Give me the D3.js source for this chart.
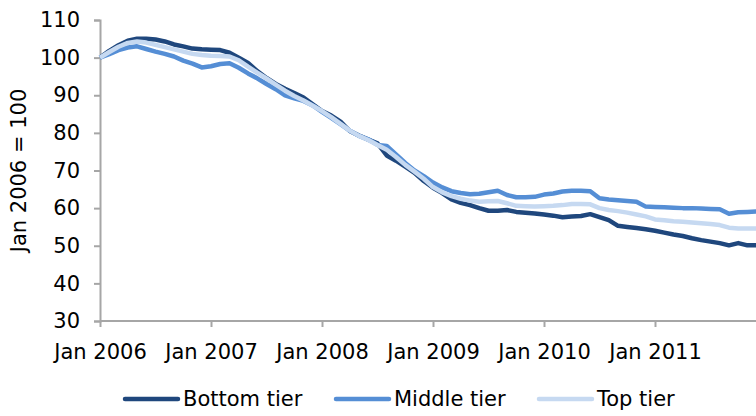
<!DOCTYPE html>
<html>
<head>
<meta charset="utf-8">
<script src="https://cdn.jsdelivr.net/npm/d3@7"></script>
<style>
  body { margin: 0; background: #fff; }
  svg { display: block; font-family: Verdana, "DejaVu Sans", sans-serif; }
</style>
</head>
<body>
<svg id="chart" width="756" height="416"></svg>
<script>
// monthly index, Jan 2006 = 100
var yearLabels = ["Jan 2006", "Jan 2007", "Jan 2008", "Jan 2009", "Jan 2010", "Jan 2011"];
var yTicks = [30, 40, 50, 60, 70, 80, 90, 100, 110];

var bottomTier = [
  100, 101.8, 103.3, 104.5, 105.0, 105.0, 104.8, 104.3, 103.5, 103.0, 102.4, 102.2,
  102.1, 102.0, 101.3, 100.0, 98.6, 96.4, 94.6, 93.0, 91.7, 90.6, 89.4, 87.6,
  85.8, 84.6, 83.0, 80.5, 79.3, 78.2, 77.2, 74.0, 72.6, 71.0, 69.4, 67.2,
  65.4, 64.0, 62.3, 61.4, 60.8, 60.0, 59.3, 59.3, 59.5, 59.0, 58.8, 58.6,
  58.3, 58.0, 57.6, 57.8, 57.9, 58.4, 57.6, 56.8, 55.3, 55.0, 54.7, 54.4,
  54.0, 53.5, 53.0, 52.6, 52.0, 51.5, 51.1, 50.7, 50.1, 50.7, 50.1, 50.1
];
var middleTier = [
  100, 100.9, 102.0, 102.7, 103.0, 102.3, 101.6, 101.0, 100.3, 99.2, 98.4, 97.4,
  97.7, 98.3, 98.5, 97.3, 95.8, 94.5, 93.0, 91.6, 90.0, 89.2, 88.5, 87.3,
  85.6, 84.0, 82.3, 80.6, 79.2, 78.3, 76.8, 76.5, 74.3, 72.0, 70.0, 68.5,
  66.8, 65.5, 64.5, 64.0, 63.7, 63.8, 64.2, 64.6, 63.5, 62.9, 62.9, 63.0,
  63.6, 63.9, 64.4, 64.6, 64.6, 64.5, 62.6, 62.3, 62.1, 61.9, 61.7, 60.4,
  60.3, 60.2, 60.1, 60.0, 60.0, 59.9, 59.8, 59.7, 58.5, 58.9, 59.0, 59.1
];
var topTier = [
  100, 101.5, 102.9, 103.9, 104.3, 104.0, 103.4, 102.8, 102.2, 101.6, 101.0, 100.7,
  100.5, 100.4, 100.3, 99.3, 97.6, 96.0, 94.5, 92.8, 91.2, 89.8, 88.6, 87.2,
  85.8, 84.2, 82.4, 80.6, 79.2, 78.1, 76.8, 75.5, 73.6, 71.5, 69.7, 67.8,
  65.6, 64.2, 63.2, 62.5, 62.0, 61.7, 61.8, 61.9, 61.3, 60.6, 60.5, 60.4,
  60.5, 60.6, 60.8, 61.1, 61.1, 61.0, 60.0, 59.5, 59.2, 58.8, 58.3, 57.8,
  57.0, 56.8, 56.5, 56.4, 56.2, 56.0, 55.8, 55.5, 54.8, 54.6, 54.6, 54.6
];

var seriesNames = ["Bottom tier", "Middle tier", "Top tier"];
var colors = ["#1f477d", "#558ed5", "#c6d9f1"];
var allSeries = [bottomTier, middleTier, topTier];

var margin = {top: 20, left: 100},
    plotW = 656.75,
    plotH = 301;

var svg = d3.select("#chart");

var x = d3.scaleLinear()
    .domain([0, 71])
    .range([margin.left, margin.left + plotW]);

var y = d3.scaleLinear()
    .domain([30, 110])
    .range([margin.top + plotH, margin.top]);

var axisColor = "#a6a6a6";
var fontSize = "21px";

// y axis
var yAxis = svg.append("g")
    .attr("transform", "translate(" + margin.left + ",0)")
    .call(d3.axisLeft(y).tickValues(yTicks).tickSize(6).tickPadding(14));

// x axis
var xAxis = svg.append("g")
    .attr("transform", "translate(0," + (margin.top + plotH) + ")")
    .call(d3.axisBottom(x)
      .tickValues(yearLabels.map(function(d, i) { return i * 12; }))
      .tickFormat(function(d, i) { return yearLabels[i]; })
      .tickSize(6).tickPadding(17));

[yAxis, xAxis].forEach(function(a) {
  a.select(".domain").attr("stroke", axisColor).attr("stroke-width", 2);
  a.selectAll(".tick line").attr("stroke", axisColor).attr("stroke-width", 2);
  a.selectAll(".tick text")
    .attr("fill", "#000")
    .style("font-size", fontSize)
    .style("font-family", "Verdana, 'DejaVu Sans', sans-serif");
});
// x axis line runs to the right edge
xAxis.select(".domain").attr("d", "M" + margin.left + ",0H756");

// y title
svg.append("text")
    .attr("transform", "translate(26," + (margin.top + plotH / 2) + ") rotate(-90)")
    .style("text-anchor", "middle")
    .style("font-size", fontSize)
    .text("Jan 2006 = 100");

var line = d3.line()
    .x(function(d, i) { return x(i); })
    .y(function(d) { return y(d); });

allSeries.forEach(function(s, k) {
  svg.append("path")
    .datum(s)
    .attr("fill", "none")
    .attr("stroke", colors[k])
    .attr("stroke-width", 4.5)
    .attr("stroke-linejoin", "round")
    .attr("d", line);
});

// legend
var legendX = [125, 336, 539];
var legend = svg.selectAll(".legend")
    .data(seriesNames)
  .enter().append("g")
    .attr("class", "legend")
    .attr("transform", function(d, i) { return "translate(" + legendX[i] + ",399)"; });

legend.append("line")
    .attr("x1", 0).attr("x2", 53)
    .attr("stroke", function(d, i) { return colors[i]; })
    .attr("stroke-width", 4.5)
    .attr("stroke-linecap", "round");

legend.append("text")
    .attr("x", 58)
    .attr("dy", "0.35em")
    .style("font-size", fontSize)
    .text(function(d) { return d; });
</script>
</body>
</html>
